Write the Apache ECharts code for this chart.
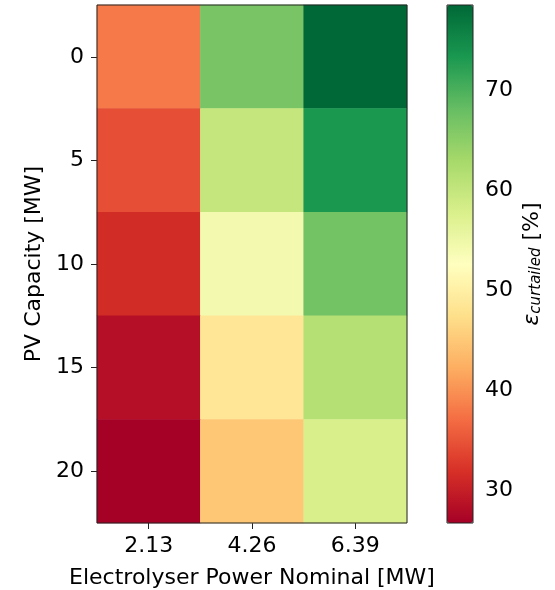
<!DOCTYPE html>
<html>
<head>
<meta charset="utf-8">
<script src="https://cdn.jsdelivr.net/npm/echarts@6/dist/echarts.min.js"></script>
<style>
  html, body { margin: 0; padding: 0; background: #fff; }
  #main { width: 555px; height: 590px; }
</style>
</head>
<body>
<div id="main"></div>
<script>
// heatmap data, rows = PV capacity, cols = electrolyser power
var powerLabels = ['2.13', '4.26', '6.39'];
var pvLabels = ['0', '5', '10', '15', '20'];
var curtailed = [
    [38.1, 66.6, 78.5],
    [34.5, 59.9, 73.3],
    [31.4, 54.2, 67.1],
    [28.3, 48.5, 61.4],
    [26.7, 44.8, 57.8]
];
var cbarMin = 26.7;
var cbarMax = 78.5;
var cbarTicks = [30, 40, 50, 60, 70];

var RdYlGn = ['#a50026', '#d73027', '#f46d43', '#fdae61', '#fee08b', '#ffffbf',
    '#d9ef8b', '#a6d96a', '#66bd63', '#1a9850', '#006837'];

var dataArr = [];
for (var i = 0; i < pvLabels.length; i++) {
    for (var j = 0; j < powerLabels.length; j++) {
        dataArr.push([j, i, curtailed[i][j]]);
    }
}

var font = 'DejaVu Sans';
var fs = 22;
var myChart = echarts.init(document.getElementById('main'));

var option = {
    animation: false,
    textStyle: { fontFamily: font },
    grid: [{
        left: 97, top: 5, width: 310, height: 518,
        outerBoundsMode: 'none', containLabel: false,
        show: true, borderColor: '#222', borderWidth: 1, z: 10,
        backgroundColor: 'transparent'
    }, {
        left: 447, top: 5, width: 26, height: 518,
        outerBoundsMode: 'none', containLabel: false,
        show: true, borderColor: '#222', borderWidth: 1, z: 10,
        backgroundColor: 'transparent'
    }],
    xAxis: [{
        type: 'category',
        gridIndex: 0,
        data: powerLabels,
        name: 'Electrolyser Power Nominal [MW]',
        nameLocation: 'middle',
        nameGap: 44,
        nameTextStyle: { fontSize: fs, color: '#000', fontFamily: font },
        axisLine: { show: false },
        axisTick: { show: true, alignWithLabel: true, length: 6, lineStyle: { color: '#222' } },
        axisLabel: { fontSize: fs, color: '#000', margin: 12, fontFamily: font },
        splitLine: { show: false }
    }, {
        type: 'value',
        gridIndex: 1,
        show: false
    }],
    yAxis: [{
        type: 'category',
        gridIndex: 0,
        data: pvLabels,
        inverse: true,
        name: 'PV Capacity [MW]',
        nameLocation: 'middle',
        nameGap: 52,
        nameRotate: 90,
        nameTextStyle: { fontSize: fs, color: '#000', fontFamily: font },
        axisLine: { show: false },
        axisTick: { show: true, alignWithLabel: true, length: 6, lineStyle: { color: '#222' } },
        axisLabel: { fontSize: fs, color: '#000', margin: 13, fontFamily: font },
        splitLine: { show: false }
    }, {
        type: 'value',
        gridIndex: 1,
        position: 'right',
        min: cbarMin,
        max: cbarMax,
        name: '{e|ε}{s|curtailed}{n| [%]}',
        nameLocation: 'middle',
        nameGap: 47,
        nameRotate: 90,
        nameTextStyle: {
            color: '#000',
            rich: {
                e: { fontSize: fs, fontStyle: 'italic', fontFamily: font, color: '#000' },
                s: { fontSize: 15, fontStyle: 'italic', fontFamily: font, color: '#000', verticalAlign: 'bottom', padding: [9, 0, 0, 0] },
                n: { fontSize: fs, fontFamily: font, color: '#000' }
            }
        },
        axisLine: { show: false },
        axisTick: { show: true, length: 6, lineStyle: { color: '#222' }, customValues: cbarTicks },
        axisLabel: { fontSize: fs, color: '#000', margin: 12, fontFamily: font, customValues: cbarTicks },
        splitLine: { show: false }
    }],
    visualMap: {
        type: 'continuous',
        min: cbarMin,
        max: cbarMax,
        dimension: 2,
        seriesIndex: 0,
        orient: 'vertical',
        left: 447,
        top: 5,
        padding: 0,
        itemWidth: 26,
        itemHeight: 518,
        calculable: false,
        hoverLink: false,
        showLabel: false,
        inRange: { color: RdYlGn }
    },
    series: [{
        type: 'heatmap',
        xAxisIndex: 0,
        yAxisIndex: 0,
        data: dataArr,
        itemStyle: { borderWidth: 0 },
        emphasis: { disabled: true }
    }]
};

myChart.setOption(option);
</script>
</body>
</html>
